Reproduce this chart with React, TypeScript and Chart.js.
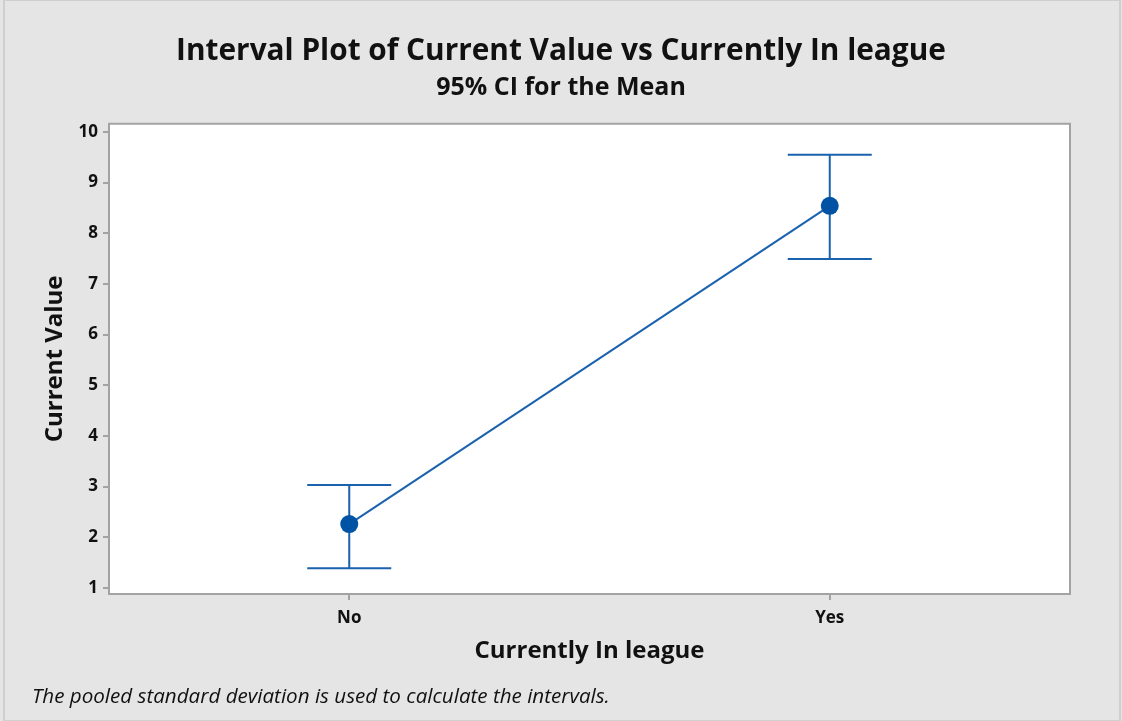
import React, { useEffect, useRef } from "react";
import { Chart, registerables } from "chart.js";

Chart.register(...registerables);

const categories = ["No", "Yes"];
const means = [2.26, 8.54];
const lowerCI = [1.39, 7.49];
const upperCI = [3.03, 9.55];
const yTicks = [1, 2, 3, 4, 5, 6, 7, 8, 9, 10];

const FONT = "'Open Sans', 'Noto Sans', sans-serif";
const BLUE_LINE = "#1a62ae";
const BLUE_POINT = "#0052a5";
const AXIS_GRAY = "#a3a3a3";

const framePlugin = {
  id: "frame",
  beforeDraw(chart: any) {
    const { ctx, width, height, chartArea } = chart;
    ctx.save();
    ctx.fillStyle = "#e5e5e5";
    ctx.fillRect(0, 0, width, height);
    ctx.strokeStyle = "#cfcfcf";
    ctx.lineWidth = 2;
    ctx.strokeRect(4, 0, width - 6, height);
    ctx.fillStyle = "#ffffff";
    ctx.fillRect(chartArea.left, chartArea.top, chartArea.right - chartArea.left, chartArea.bottom - chartArea.top);
    ctx.restore();
  },
  afterDraw(chart: any) {
    const { ctx, chartArea } = chart;
    ctx.save();
    ctx.strokeStyle = AXIS_GRAY;
    ctx.lineWidth = 2;
    ctx.strokeRect(chartArea.left, chartArea.top, chartArea.right - chartArea.left, chartArea.bottom - chartArea.top);
    ctx.fillStyle = "#111";
    ctx.font = `italic 20.6px ${FONT}`;
    ctx.textBaseline = "middle";
    ctx.textAlign = "left";
    ctx.fillText("The pooled standard deviation is used to calculate the intervals.", 32, 697);
    ctx.restore();
  },
};

const errorBarPlugin = {
  id: "errorBars",
  beforeDatasetsDraw(chart: any) {
    const { ctx, scales } = chart;
    const xs = scales.x;
    const ys = scales.y;
    ctx.save();
    ctx.strokeStyle = BLUE_LINE;
    ctx.lineWidth = 2;
    categories.forEach((_, i) => {
      const x = xs.getPixelForValue(i);
      const yl = ys.getPixelForValue(lowerCI[i]);
      const yu = ys.getPixelForValue(upperCI[i]);
      const cap = 42;
      ctx.beginPath();
      ctx.moveTo(x, yl);
      ctx.lineTo(x, yu);
      ctx.moveTo(x - cap, yl);
      ctx.lineTo(x + cap, yl);
      ctx.moveTo(x - cap, yu);
      ctx.lineTo(x + cap, yu);
      ctx.stroke();
    });
    ctx.restore();
  },
};

export default function App() {
  const ref = useRef<HTMLCanvasElement>(null);
  useEffect(() => {
    document.body.style.margin = "0";
    const canvas = ref.current!;
    const chart = new Chart(canvas, {
      type: "line",
      data: {
        labels: categories,
        datasets: [
          {
            data: means,
            borderColor: BLUE_LINE,
            borderWidth: 2,
            pointRadius: 9,
            pointBackgroundColor: BLUE_POINT,
            pointBorderColor: BLUE_POINT,
            pointBorderWidth: 0,
            tension: 0,
            yAxisID: "y",
          },
        ],
      },
      options: {
        animation: false,
        responsive: false,
        maintainAspectRatio: false,
        layout: { padding: { left: 26, right: 26, top: 0, bottom: 0 } },
        plugins: {
          legend: { display: false },
          tooltip: { enabled: false },
          title: {
            display: true,
            text: "Interval Plot of Current Value vs Currently In league",
            color: "#111",
            font: { family: FONT, size: 29.8, weight: "bold", lineHeight: 1.2 },
            padding: { top: 34, bottom: 2 },
          },
          subtitle: {
            display: true,
            text: "95% CI for the Mean",
            color: "#111",
            font: { family: FONT, size: 25, weight: "bold", lineHeight: 1.2 },
            padding: { top: 1, bottom: 21 },
          },
        },
        scales: {
          x: {
            type: "category",
            offset: true,
            afterFit: (s: any) => {
              s.height = 127;
            },
            grid: {
              display: true,
              drawOnChartArea: false,
              drawTicks: true,
              tickLength: 6,
              color: AXIS_GRAY,
              lineWidth: 2,
            },
            border: { display: true, color: AXIS_GRAY, width: 2 },
            ticks: {
              color: "#111",
              font: { family: FONT, size: 17, weight: "bold" },
              padding: 8,
            },
            title: {
              display: true,
              text: "Currently In league",
              color: "#111",
              font: { family: FONT, size: 24, weight: "bold", lineHeight: 1.2 },
              padding: { top: 0, bottom: 55 },
            },
          },
          y: {
            type: "linear",
            position: "left",
            min: 0.88,
            max: 10.16,
            afterFit: (s: any) => {
              s.width = 83;
            },
            afterBuildTicks: (s: any) => {
              s.ticks = yTicks.map((v) => ({ value: v }));
            },
            grid: {
              display: true,
              drawOnChartArea: false,
              drawTicks: true,
              tickLength: 6,
              color: AXIS_GRAY,
              lineWidth: 2,
            },
            border: { display: true, color: AXIS_GRAY, width: 2 },
            ticks: {
              color: "#111",
              font: { family: FONT, size: 17, weight: "bold" },
              padding: 5,
            },
            title: {
              display: true,
              text: "Current Value",
              color: "#111",
              font: { family: FONT, size: 24, weight: "bold", lineHeight: 1.2 },
              padding: { top: 15, bottom: 0 },
            },
          },
          spacer: {
            type: "linear",
            position: "right",
            afterFit: (s: any) => {
              s.width = 26;
            },
            grid: { display: false, drawTicks: false },
            border: { display: false },
            ticks: { display: false },
            title: { display: false },
          },
        },
      },
      plugins: [framePlugin, errorBarPlugin],
    });
    return () => chart.destroy();
  }, []);
  return (
    <div style={{ width: 1122, height: 721 }}>
      <canvas ref={ref} width={1122} height={721} style={{ display: "block", width: 1122, height: 721 }} />
    </div>
  );
}
